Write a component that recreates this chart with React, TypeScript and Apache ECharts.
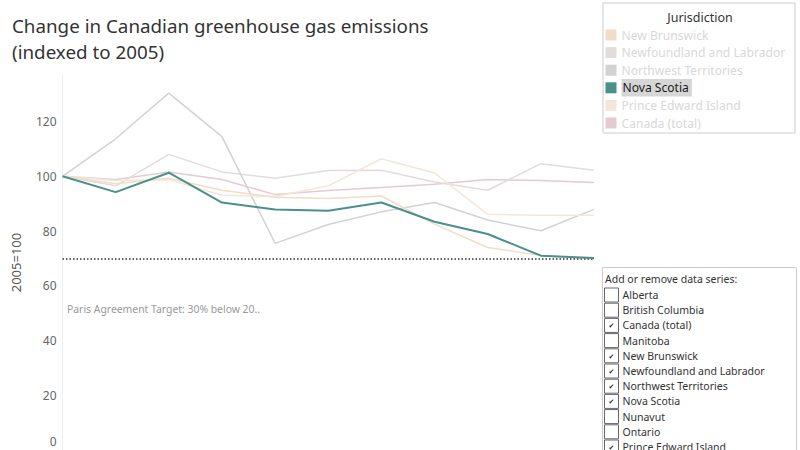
import React, { useEffect, useRef } from "react";
import * as echarts from "echarts";

const years = [2005, 2006, 2007, 2008, 2009, 2010, 2011, 2012, 2013, 2014, 2015];

const novaScotia = [100, 94.2, 101.3, 90.4, 87.9, 87.4, 90.4, 83.4, 78.9, 71.0, 70.1];
const northwestTerritories = [100, 113.7, 130.4, 114.5, 75.5, 82.4, 87.0, 90.4, 84.0, 80.1, 87.9];
const newfoundland = [100, 96.5, 108.0, 101.6, 99.3, 102.1, 102.2, 97.9, 94.9, 104.6, 102.2];
const canadaTotal = [100, 98.8, 101.6, 98.8, 93.3, 94.8, 95.9, 97.1, 98.8, 98.5, 97.7];
const newBrunswick = [100, 97.3, 99.3, 94.9, 92.3, 91.9, 92.8, 82.5, 74.0, 71.1, 69.8];
const princeEdward = [100, 98.5, 98.8, 93.1, 92.6, 96.5, 106.4, 101.2, 86.1, 85.8, 85.8];

const legendOrder = [
  "New Brunswick",
  "Newfoundland and Labrador",
  "Northwest Territories",
  "Nova Scotia",
  "Prince Edward Island",
  "Canada (total)",
];
const highlighted = "Nova Scotia";

const panelItems = [
  "Alberta",
  "British Columbia",
  "Canada (total)",
  "Manitoba",
  "New Brunswick",
  "Newfoundland and Labrador",
  "Northwest Territories",
  "Nova Scotia",
  "Nunavut",
  "Ontario",
  "Prince Edward Island",
];
const checkedItems = [
  "Canada (total)",
  "New Brunswick",
  "Newfoundland and Labrador",
  "Northwest Territories",
  "Nova Scotia",
  "Prince Edward Island",
];

const parisTarget = 70;
const yTicks = [0, 20, 40, 60, 80, 100, 120];

const FONT = "Noto Sans";

export default function App() {
  const ref = useRef<HTMLDivElement>(null);
  useEffect(() => {
    if (!ref.current) return;
    const chart = echarts.init(ref.current, undefined, { renderer: "svg" });

    const seriesDefs = [
      { name: "Canada (total)", data: canadaTotal, color: "#e4cbd1", width: 1.5, z: 2 },
      { name: "Newfoundland and Labrador", data: newfoundland, color: "#e2dcdc", width: 1.5, z: 2 },
      { name: "Northwest Territories", data: northwestTerritories, color: "#d2d2d2", width: 1.5, z: 2 },
      { name: "Prince Edward Island", data: princeEdward, color: "#f4e6d8", width: 1.5, z: 2 },
      { name: "New Brunswick", data: newBrunswick, color: "#f1dcc6", width: 1.5, z: 2 },
      { name: "Nova Scotia", data: novaScotia, color: "#4a918c", width: 2, z: 5 },
    ];

    const series: any[] = seriesDefs.map((s) => ({
      name: s.name,
      type: "line",
      data: years.map((y, i) => [y, s.data[i]]),
      showSymbol: false,
      symbol: "none",
      z: s.z,
      lineStyle: { color: s.color, width: s.width },
      itemStyle: { color: s.color },
      emphasis: { disabled: true },
    }));
    series[series.length - 1].markLine = {
      silent: true,
      symbol: "none",
      label: { show: false },
      lineStyle: { color: "#333", width: 1.5, type: [1.5, 2] },
      data: [{ yAxis: parisTarget }],
    };

    const rowH = 15.2;
    const panelTop = 295;
    const panelGraphics: any[] = [];
    panelItems.forEach((name, i) => {
      const cy = panelTop + i * rowH;
      panelGraphics.push({
        type: "rect",
        shape: { x: 604.5, y: cy - 7, width: 14, height: 14 },
        style: { fill: "#fff", stroke: "#666", lineWidth: 1 },
      });
      if (checkedItems.includes(name)) {
        panelGraphics.push({
          type: "text",
          style: {
            x: 611.5,
            y: cy + 1,
            text: "✔",
            fontSize: 7,
            fill: "#333",
            align: "center",
            verticalAlign: "middle",
            fontFamily: "DejaVu Sans",
          },
        });
      }
      panelGraphics.push({
        type: "text",
        style: {
          x: 622.5,
          y: cy,
          text: name,
          fontSize: 10.5,
          fill: "#333",
          verticalAlign: "middle",
          fontFamily: FONT,
        },
      });
    });

    chart.setOption({
      animation: false,
      title: {
        text: "Change in Canadian greenhouse gas emissions\n(indexed to 2005)",
        left: 7,
        top: 8,
        textStyle: {
          fontSize: 18.8,
          lineHeight: 26,
          fontWeight: "normal",
          color: "#333",
          fontFamily: FONT,
        },
      },
      legend: {
        orient: "vertical",
        left: 605.5,
        top: 26.2,
        padding: 0,
        itemGap: 0,
        itemWidth: 11,
        itemHeight: 11,
        icon: "rect",
        selectedMode: false,
        data: legendOrder.map((name) =>
          name === highlighted
            ? {
                name,
                textStyle: {
                  color: "#1a1a1a",
                  backgroundColor: "#d6d6d6",
                  padding: [0, 3, 0, 1],
                  lineHeight: 17.6,
                },
              }
            : { name, textStyle: { color: "#d8d8d8", lineHeight: 17.6 } }
        ),
        textStyle: { fontSize: 12.1, fontFamily: FONT, lineHeight: 17.6 },
      },
      grid: { left: 62.5, right: 206, top: 75, bottom: -1 },
      xAxis: {
        type: "value",
        min: years[0],
        max: years[years.length - 1],
        show: false,
      },
      yAxis: {
        type: "value",
        min: 0,
        max: 137,
        interval: 20,
        name: "2005=100",
        nameLocation: "middle",
        nameGap: 40,
        nameTextStyle: { fontSize: 13, color: "#555", fontFamily: FONT },
        axisLine: { show: true, lineStyle: { color: "#efefef" } },
        axisTick: { show: false },
        splitLine: { show: false },
        axisLabel: {
          fontSize: 12,
          color: "#666",
          fontFamily: FONT,
          margin: 6,
          formatter: (v: number) =>
            v === 0 ? "{z|0}" : yTicks.includes(v) ? String(v) : "",
          rich: {
            z: { fontSize: 12, color: "#666", fontFamily: FONT, padding: [0, 0, 18, 0] },
          },
        },
      },
      graphic: [
        {
          type: "rect",
          shape: { x: 603, y: 3, width: 192, height: 130 },
          style: { fill: "none", stroke: "#cccccc", lineWidth: 1 },
          z: -1,
        },
        {
          type: "text",
          style: {
            x: 700,
            y: 17,
            text: "Jurisdiction",
            fontSize: 12.5,
            fill: "#333",
            align: "center",
            verticalAlign: "middle",
            fontFamily: FONT,
          },
        },
        {
          type: "text",
          style: {
            x: 67,
            y: 309,
            text: "Paris Agreement Target: 30% below 20..",
            fontSize: 10.4,
            fill: "#999",
            verticalAlign: "middle",
            fontFamily: FONT,
          },
        },
        {
          type: "rect",
          shape: { x: 602.5, y: 267.5, width: 194, height: 200 },
          style: { fill: "none", stroke: "#cccccc", lineWidth: 1 },
        },
        {
          type: "text",
          style: {
            x: 605,
            y: 279,
            text: "Add or remove data series:",
            fontSize: 10.5,
            fill: "#333",
            verticalAlign: "middle",
            fontFamily: FONT,
          },
        },
        ...panelGraphics,
      ],
      series,
    });
    return () => chart.dispose();
  }, []);
  return (
    <div
      ref={ref}
      style={{ position: "fixed", left: 0, top: 0, width: 800, height: 450, background: "#fff" }}
    />
  );
}
